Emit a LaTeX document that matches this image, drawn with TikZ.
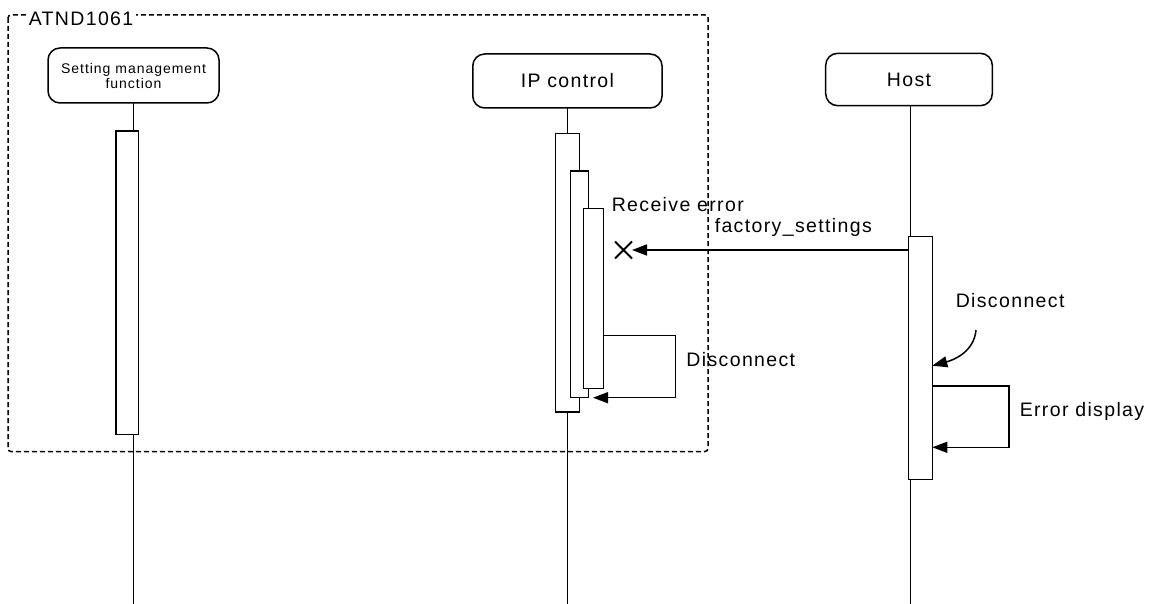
\documentclass[tikz,border=0pt]{standalone}
\usepackage{fontspec}
\setmainfont{Liberation Sans}[LetterSpace=7]
\usetikzlibrary{arrows.meta,shapes.misc}
\begin{document}
\begin{tikzpicture}[x=1pt,y=-1pt,
  every path/.style={line width=1.5pt},
  actor/.style={draw, line width=1.5pt, rounded corners=12pt, inner sep=0pt, outer sep=0pt, align=center, font=\fontsize{19.5}{22}\selectfont},
  bar/.style={draw, line width=1.5pt, fill=white, inner sep=0pt, outer sep=0pt, anchor=north west},
  lbl/.style={inner sep=0pt, anchor=base west, font=\fontsize{19.5}{22}\selectfont},
  msg/.style={line width=1.5pt, -{Triangle[length=15pt,width=11pt]}},
  frame/.style={draw, line width=1.5pt, dash pattern=on 5pt off 3pt, rounded corners=3pt}
]
\useasboundingbox (0,0) rectangle (1154,604);
\coordinate (bot) at (0,604);

% frame
\draw[frame] (8,15) rectangle (708,451.5);
\node[fill=white, inner xsep=3pt, inner ysep=1pt, anchor=base west, font=\fontsize{19.5}{22}\selectfont] (fr) at (25,26) {ATND1061};

% actors
\node[actor, minimum width=171pt, minimum height=55pt, font=\fontsize{14}{15}\selectfont] (sm) at (133.5,75.5) {Setting management\\function};
\node[actor, minimum width=189.3pt, minimum height=54pt] (ip) at (567.4,81) {IP control};
\node[actor, minimum width=166.6pt, minimum height=52.4pt] (ho) at (909,79.5) {Host};

% bars
\node[bar, minimum width=22.7pt, minimum height=303.7pt] (b0) at (116,131) {};
\node[bar, minimum width=23.6pt, minimum height=278.7pt] (b1) at (555.7,133.3) {};
\node[bar, minimum width=17.8pt, minimum height=226.7pt] (b2) at (570.7,171) {};
\node[bar, minimum width=20pt, minimum height=180.4pt] (b3) at (583.3,208.3) {};
\node[bar, minimum width=24pt, minimum height=242.6pt] (hb) at (908.3,236.7) {};

% lifelines
\draw (sm.south) -- (sm.south |- b0.north);
\draw (sm.south |- b0.south) -- (sm.south |- bot);
\draw (ip.south) -- (ip.south |- b1.north);
\draw (ip.south |- b1.south) -- (ip.south |- bot);
\draw ([xshift=1.5pt]ho.south) -- ([xshift=1.5pt]ho.south |- hb.north);
\draw ([xshift=1.5pt]ho.south |- hb.south) -- ([xshift=1.5pt]ho.south |- bot);

% message with lost end
\node[cross out, draw, line width=2pt, minimum size=15pt, inner sep=0pt] (xm) at (623.5,250) {};
\draw[msg] ([yshift=-13.3pt]hb.north west) -- (xm.east);
\node[lbl] (t1) at (611,211.7) {Receive error};
\node[lbl] (t2) at (714,233) {factory\_settings};

% IP self message
\draw[msg] ([yshift=-127.4pt]b3.north east) -- ++(72,0) |- ([xshift=4.5pt]b2.south east);
\node[lbl] (t3) at (685.7,366.5) {Disconnect};

% host found message
\coordinate (c1) at (976,330);
\draw[msg] (c1) to[out=-95,in=15] ([yshift=-129pt]hb.north east);
\node[lbl] (t4) at (955,307) {Disconnect};

% host self message
\draw[msg] ([yshift=-149.3pt]hb.north east) -- ++(76.7,0) |- ([yshift=-210.6pt]hb.north east);
\node[lbl] (t5) at (1019,416.5) {Error display};
\end{tikzpicture}
\end{document}
